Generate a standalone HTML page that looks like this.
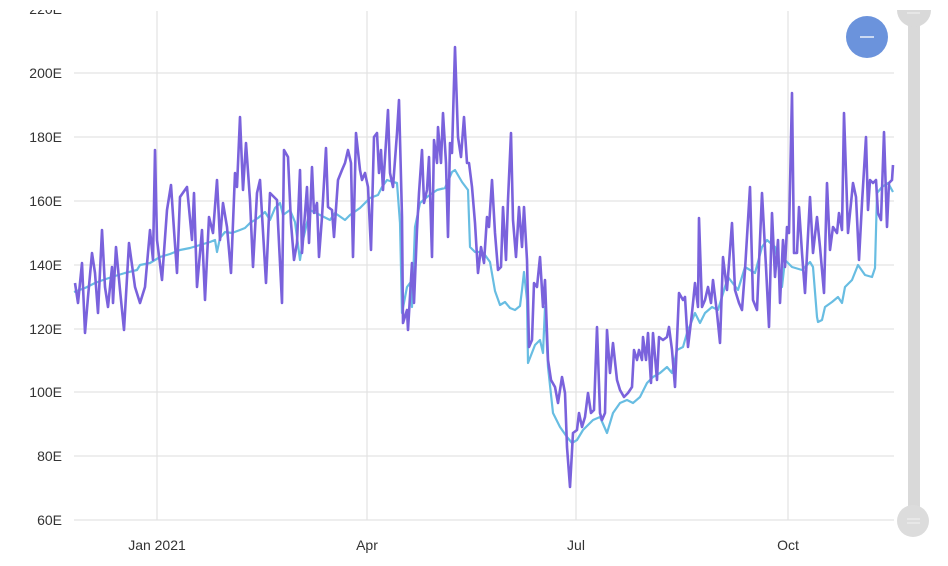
<!DOCTYPE html>
<html><head><meta charset="utf-8"><style>
html,body{margin:0;padding:0;background:#fff;}
svg{display:block;}
text{font-family:"Liberation Sans",sans-serif;font-size:14px;fill:#333;}
</style></head><body>
<svg width="948" height="566" viewBox="0 0 948 566" xmlns="http://www.w3.org/2000/svg">
<g stroke="#e3e3e3" stroke-width="1.2">
<line x1="74" y1="73" x2="894" y2="73"/>
<line x1="74" y1="137" x2="894" y2="137"/>
<line x1="74" y1="201" x2="894" y2="201"/>
<line x1="74" y1="265" x2="894" y2="265"/>
<line x1="74" y1="329" x2="894" y2="329"/>
<line x1="74" y1="392" x2="894" y2="392"/>
<line x1="74" y1="456" x2="894" y2="456"/>
<line x1="74" y1="520" x2="894" y2="520"/>
<line x1="157" y1="11" x2="157" y2="520"/>
<line x1="367" y1="11" x2="367" y2="520"/>
<line x1="576" y1="11" x2="576" y2="520"/>
<line x1="788" y1="11" x2="788" y2="520"/>
</g>
<g text-anchor="end">
<text x="62" y="14">220E</text>
<text x="62" y="78">200E</text>
<text x="62" y="142">180E</text>
<text x="62" y="206">160E</text>
<text x="62" y="270">140E</text>
<text x="62" y="334">120E</text>
<text x="62" y="397">100E</text>
<text x="62" y="461">80E</text>
<text x="62" y="525">60E</text>
</g>
<rect x="0" y="0" width="100" height="10" fill="#fff"/>
<g text-anchor="middle">
<text x="157" y="550">Jan 2021</text>
<text x="367" y="550">Apr</text>
<text x="576" y="550">Jul</text>
<text x="788" y="550">Oct</text>
</g>
<polyline fill="none" stroke="#68bde2" stroke-width="2.2" stroke-linejoin="round" points="
74,292 85,288 95,283 103,280 115,276 125,273 137,270 140,265 150,263 160,257 170,254 180,250 190,248 200,245 210,242 215,240 217,252 220,238 225,232 232,233 240,230 245,228 250,223 258,218 265,212 270,220 275,208 280,203 283,215 290,210 295,222 300,260 303,240 310,210 320,215 330,220 335,213 345,220 350,215 360,208 370,198 378,195 382,187 387,180 393,182 397,183 400,223 402,313 407,287 410,283 412,307 415,227 420,203 427,197 437,190 445,188 452,172 455,170 462,182 468,190 470,247 475,252 480,252 485,255 490,262 495,291 500,305 505,302 510,308 515,310 520,306 522,290 524,272 527,300 528,363 535,345 540,340 543,353 545,307 548,367 553,413 560,427 567,437 572,443 577,440 583,430 593,420 600,417 607,433 613,413 620,403 627,400 633,403 640,397 647,383 653,377 660,373 667,367 672,373 677,350 683,347 687,333 695,313 700,323 705,313 712,307 718,310 728,277 738,290 745,267 755,273 762,247 767,240 775,247 782,287 785,260 792,267 802,270 810,262 813,267 817,317 818,322 822,320 825,307 832,302 838,297 842,303 845,287 852,280 858,265 865,275 872,277 875,268 877,193 882,187 888,183 893,192"/>
<polyline fill="none" stroke="#7a62dc" stroke-width="2.6" stroke-linejoin="round" points="
75,283 78,303 82,263 85,333 88,297 92,253 95,273 98,313 102,230 105,287 108,307 112,267 113,303 116,247 120,290 124,330 129,243 135,287 140,303 145,287 150,230 153,260 155,150 157,240 162,280 167,210 171,185 174,230 177,273 180,197 187,187 192,240 194,193 197,287 202,230 205,300 209,217 213,233 217,180 220,240 223,203 227,227 231,273 235,173 237,187 240,117 243,190 246,143 250,200 253,267 257,193 260,180 266,283 270,193 277,200 278,223 282,303 284,150 288,157 291,223 294,260 297,243 300,170 302,253 307,187 309,243 312,167 314,213 317,203 319,257 322,217 326,148 328,207 332,210 334,237 338,180 342,170 345,163 348,150 351,163 353,257 356,133 360,170 362,180 365,173 368,187 371,250 374,137 377,133 379,173 381,150 383,190 388,110 390,173 393,187 397,133 399,100 402,217 403,323 407,310 408,330 412,263 414,303 417,230 419,193 422,150 424,203 427,190 429,157 432,257 434,140 437,163 438,127 441,163 443,113 446,163 448,237 450,143 452,153 455,47 458,137 461,157 464,117 467,163 469,163 472,187 475,223 478,273 481,247 484,263 487,217 489,227 492,180 495,233 498,270 501,267 503,207 506,260 508,200 511,133 513,220 516,257 519,207 522,247 524,207 527,260 529,347 532,340 534,283 537,287 540,257 543,307 545,280 548,360 551,380 555,387 558,403 562,377 565,393 567,447 570,487 573,433 577,430 579,413 582,427 585,417 588,393 591,413 594,410 597,327 600,413 602,420 605,413 607,330 610,373 613,343 617,380 620,390 624,397 628,393 632,387 634,350 637,360 639,350 642,360 643,337 646,360 648,333 651,383 653,333 657,380 659,337 663,340 667,337 669,327 672,350 675,387 679,293 683,300 685,297 688,347 692,313 695,283 698,307 699,218 702,307 705,300 708,287 711,303 713,280 717,313 720,343 723,257 727,290 732,223 735,290 739,303 742,310 745,270 750,187 753,300 757,310 762,193 766,267 769,327 772,213 775,277 778,240 780,303 783,240 785,267 787,227 789,233 792,93 794,253 797,253 799,207 802,253 805,293 810,197 813,253 817,217 820,247 824,293 827,183 830,250 833,227 837,233 839,213 842,230 844,113 848,233 853,183 856,197 859,260 862,203 866,137 868,210 870,180 873,183 876,180 878,213 881,220 884,132 887,227 889,183 892,180 893,165"/>
<rect x="908" y="10" width="12" height="510" fill="#d9d9d9"/>
<path d="M897,10 A17,17 0 0 0 931,10 Z" fill="#d9d9d9"/>
<line x1="907" y1="13" x2="920" y2="13" stroke="#f2f2f2" stroke-width="1"/>
<circle cx="913" cy="521" r="16" fill="#dcdcdc"/>
<line x1="907" y1="519" x2="920" y2="519" stroke="#f2f2f2" stroke-width="1"/>
<line x1="907" y1="523" x2="920" y2="523" stroke="#f2f2f2" stroke-width="1"/>
<circle cx="867" cy="37" r="21" fill="#6b93dc"/>
<line x1="860" y1="37" x2="874" y2="37" stroke="#ffffff" stroke-width="1.3"/>
</svg>
</body></html>
